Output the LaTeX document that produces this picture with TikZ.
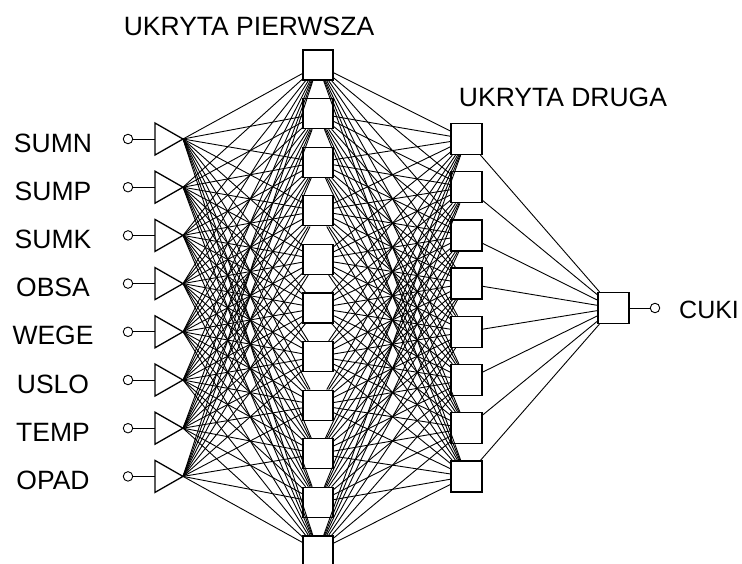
\documentclass[tikz,border=0pt]{standalone}
\usepackage{fontspec}
\setmainfont{Liberation Sans}
\tikzset{
  unit/.style={draw,line width=1.3pt,fill=white,minimum size=30pt,inner sep=0pt},
  pin/.style={circle,draw,line width=0.9pt,fill=white,inner sep=0pt,minimum size=9.5pt},
  link/.style={line width=0.9pt},
  lbl/.style={font=\fontsize{26.5}{31}\selectfont}
}
\begin{document}
\begin{tikzpicture}[x=1pt,y=-1pt]
\useasboundingbox (0,0) rectangle (742,563);
\foreach \j in {1,...,11}
  \node[unit] (ha\j) at (318,{65+48.6*(\j-1)}) {};
\foreach \k in {1,...,8}
  \node[unit,minimum size=31pt] (hb\k) at (466.5,{139+48.2*(\k-1)}) {};
\node[unit,minimum size=31pt] (out) at (613.5,308) {};
\node[pin] (q) at (655,308) {};
\node[lbl,anchor=west,inner sep=0pt,font=\fontsize{25}{30}\selectfont] (cuki) at (679,310) {CUKI};
\node[lbl] (l1) at (249,26) {UKRYTA PIERWSZA};
\node[lbl] (l2) at (563,97) {UKRYTA DRUGA};
\foreach \i/\name in {1/SUMN,2/SUMP,3/SUMK,4/OBSA,5/WEGE,6/USLO,7/TEMP,8/OPAD} {
  \pgfmathsetmacro{\yy}{139+48.2*(\i-1)}
  \node[pin] (p\i) at (128,\yy) {};
  \coordinate (b\i) at (155,\yy);
  \coordinate (in\i) at (183,\yy);
  \draw[line width=1.3pt,line join=miter] (155,\yy-16) -- (in\i) -- (155,\yy+16) -- cycle;
  \draw[link] (p\i) -- (b\i);
  \node[lbl] (t\i) at (53,\yy+4) {\name};
}
\foreach \i in {1,...,8}
  \foreach \j in {1,...,11}
    \draw[link] (in\i) -- (ha\j);
\foreach \j in {1,...,11}
  \foreach \k in {1,...,8}
    \draw[link] (ha\j) -- (hb\k);
\foreach \k in {1,...,8}
  \draw[link] (hb\k) -- (out);
\draw[link] (out) -- (q);
\end{tikzpicture}
\end{document}
